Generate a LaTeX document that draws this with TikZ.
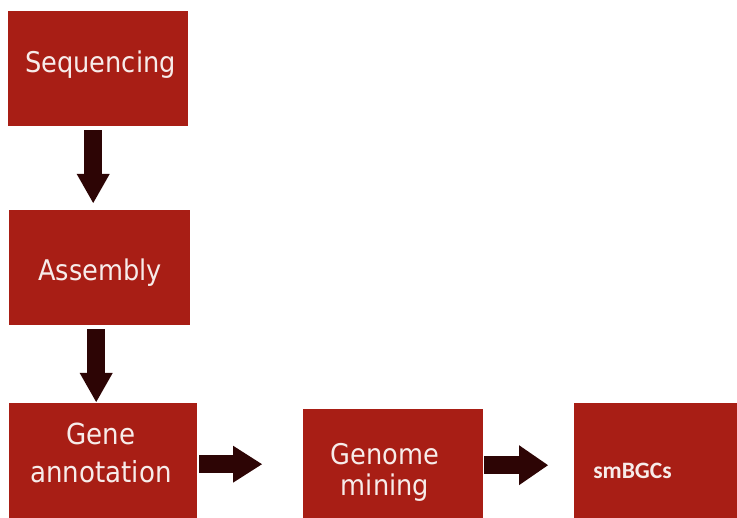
\documentclass[tikz,border=0pt]{standalone}
\usepackage{fontspec}
\setmainfont{DejaVu Sans Condensed}
\newfontfamily\tagfont{Carlito}
\usetikzlibrary{arrows.meta}
\definecolor{boxred}{HTML}{A81E15}
\definecolor{arrowdark}{HTML}{2D0505}
\definecolor{boxtext}{HTML}{F7ECEA}
\begin{document}
\begin{tikzpicture}[x=1pt,y=-1pt,
  box/.style={fill=boxred,draw=none,rectangle,inner sep=0pt,anchor=north west},
  label/.style={text=boxtext,font=\fontsize{28.5}{31}\selectfont,anchor=base,inner sep=0pt,align=center},
  flow/.style={draw=arrowdark,line width=18pt,
    -{Triangle[width=#1,length=29pt,line width=0pt]}},
  flow/.default=34pt]
  \useasboundingbox (0,0) rectangle (737,518);
  \clip (0,0) rectangle (737,518);
  % process boxes
  \node[box,minimum width=180pt,minimum height=115pt] (seq) at (8,11) {};
  \node[box,minimum width=181pt,minimum height=115pt] (asm) at (9,210) {};
  \node[box,minimum width=188pt,minimum height=115pt] (gene) at (9,403) {};
  \node[box,minimum width=180pt,minimum height=115pt] (mine) at (303,409) {};
  \node[box,minimum width=190pt,minimum height=140pt] (bgc) at (574,403) {};
  % box captions (multi-line captions are placed by the baseline of their last line)
  \node[label] (tseq) at (100.5,73) {Sequencing};
  \node[label] (tasm) at (100,281) {Assembly};
  \node[label,font=\fontsize{29}{38}\selectfont] (tgene) at (101,483) {Gene\\annotation};
  \node[label,font=\fontsize{28.5}{31}\selectfont] (tmine) at (385,496) {Genome\\mining};
  \node[label,font=\tagfont\bfseries\fontsize{23.5}{26}\selectfont] (tbgc) at (632.5,479) {smBGCs};
  % workflow arrows
  \draw[flow=33pt,shorten <=4pt,shorten >=7pt] ([xshift=-5pt]seq.south) -- ([xshift=-5pt]seq.south |- asm.north);
  \draw[flow=33pt,shorten <=4pt,shorten >=1pt] ([xshift=-3.5pt]asm.south) -- ([xshift=-3.5pt]asm.south |- gene.north);
  \draw[flow=37pt,shorten <=2pt,shorten >=41pt] ([yshift=-3.5pt]gene.east) -- ([yshift=-3.5pt]gene.east -| mine.west);
  \draw[flow=40pt,shorten <=1pt,shorten >=26pt] ([yshift=1.5pt]mine.east) -- ([yshift=1.5pt]mine.east -| bgc.west);
\end{tikzpicture}
\end{document}
